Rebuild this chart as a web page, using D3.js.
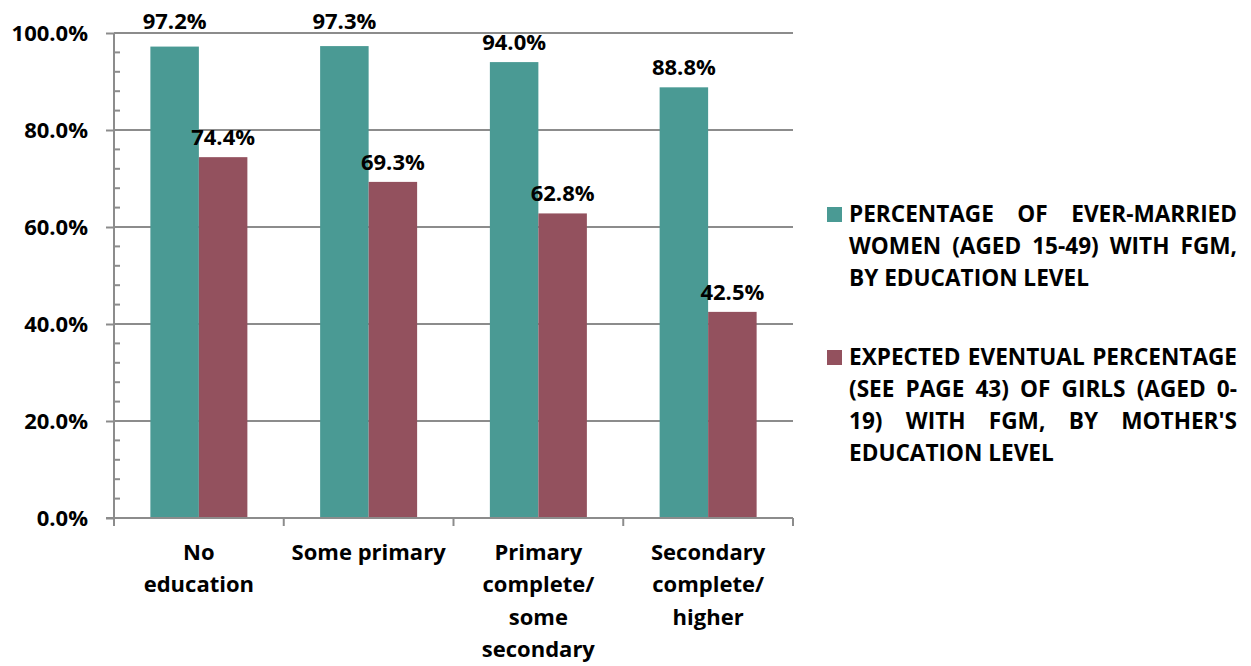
<!DOCTYPE html>
<html>
<head>
<meta charset="utf-8">
<script src="https://cdn.jsdelivr.net/npm/d3@7"></script>
<style>
  html, body { margin: 0; padding: 0; background: #fff; }
  svg text { font-family: "Open Sans", Lato, sans-serif; font-weight: bold; fill: #000; }
</style>
</head>
<body>
<svg id="chart" width="1251" height="666"></svg>
<script>
// ---- data ----
const categories = ["No\neducation", "Some primary", "Primary\ncomplete/\nsome\nsecondary", "Secondary\ncomplete/\nhigher"];
const seriesNames = [
  "PERCENTAGE OF EVER-MARRIED WOMEN (AGED 15-49) WITH FGM, BY EDUCATION LEVEL",
  "EXPECTED EVENTUAL PERCENTAGE (SEE PAGE 43) OF GIRLS (AGED 0-19) WITH FGM, BY MOTHER'S EDUCATION LEVEL"
];
const womenValues = [97.2, 97.3, 94.0, 88.8];
const girlsValues = [74.4, 69.3, 62.8, 42.5];
const yTicks = [0, 20, 40, 60, 80, 100];
const colors = ["#4A9A94", "#93515E"];

// ---- layout ----
const svg = d3.select("#chart");
const plotLeft = 114, plotRight = 793, plotTop = 33, plotBottom = 518;
const fontSize = 22;
const legendFontSize = 22.6;
const fontFam = "'Open Sans', Lato, sans-serif";
const gridColor = "#8c8c8c";

const x0 = d3.scaleBand().domain(categories).range([plotLeft, plotRight]).paddingInner(0).paddingOuter(0);
const x1 = d3.scaleBand().domain([0, 1]).range([0, x0.bandwidth()]).paddingInner(0).paddingOuter(0.75);
const y = d3.scaleLinear().domain([0, 100]).range([plotBottom, plotTop]);

// gridlines
svg.append("g").selectAll("line")
  .data(yTicks.filter(d => d > 0))
  .join("line")
  .attr("x1", plotLeft).attr("x2", plotRight)
  .attr("y1", d => y(d)).attr("y2", d => y(d))
  .attr("stroke", gridColor).attr("stroke-width", 2);

// bars
const rows = categories.map((c, i) => ({ cat: c, vals: [womenValues[i], girlsValues[i]] }));
const groups = svg.append("g").selectAll("g")
  .data(rows).join("g")
  .attr("transform", d => `translate(${x0(d.cat)},0)`);
groups.selectAll("rect")
  .data(d => d.vals.map((v, k) => ({ v, k })))
  .join("rect")
  .attr("x", d => x1(d.k))
  .attr("width", x1.bandwidth())
  .attr("y", d => y(d.v))
  .attr("height", d => y(0) - y(d.v))
  .attr("fill", d => colors[d.k]);
groups.selectAll("text.val")
  .data(d => d.vals.map((v, k) => ({ v, k })))
  .join("text")
  .attr("class", "val")
  .attr("x", d => x1(d.k) + x1.bandwidth() / 2)
  .attr("y", d => (y(d.v) - 12 > plotTop + 12) ? y(d.v) - 12 : plotTop - 4)
  .attr("text-anchor", "middle")
  .style("font-size", fontSize + "px")
  .text(d => d.v.toFixed(1) + "%");

// y axis
const yAxis = d3.axisLeft(y).tickValues(yTicks).tickSize(8).tickPadding(18)
  .tickFormat(d => d.toFixed(1) + "%");
const gy = svg.append("g").attr("transform", `translate(${plotLeft},0)`).call(yAxis);
gy.select(".domain").attr("stroke", gridColor).attr("stroke-width", 2).attr("d", `M0,${plotTop}V${plotBottom}`);
gy.selectAll(".tick line").attr("stroke", gridColor).attr("stroke-width", 2);
gy.selectAll(".tick text").style("font-size", fontSize + "px").style("font-family", fontFam).style("font-weight", "bold").attr("fill", "#000");
// minor ticks
const minor = d3.range(0, 101, 4).filter(d => d % 20 !== 0);
svg.append("g").selectAll("line").data(minor).join("line")
  .attr("x1", plotLeft).attr("x2", plotLeft + 6)
  .attr("y1", d => y(d)).attr("y2", d => y(d))
  .attr("stroke", gridColor).attr("stroke-width", 2);

// x axis
svg.append("line").attr("x1", plotLeft - 8).attr("x2", plotRight)
  .attr("y1", plotBottom).attr("y2", plotBottom)
  .attr("stroke", gridColor).attr("stroke-width", 2);
const boundaries = categories.map(c => x0(c)).concat([plotRight]);
svg.append("g").selectAll("line").data(boundaries).join("line")
  .attr("x1", d => d).attr("x2", d => d)
  .attr("y1", plotBottom).attr("y2", plotBottom + 8)
  .attr("stroke", gridColor).attr("stroke-width", 2);
// category labels
const catG = svg.append("g");
categories.forEach(c => {
  const cx = x0(c) + x0.bandwidth() / 2;
  const t = catG.append("text")
    .attr("x", cx)
    .attr("y", 560)
    .attr("text-anchor", "middle")
    .style("font-size", fontSize + "px");
  c.split("\n").forEach((line, i) => {
    t.append("tspan").attr("x", cx)
      .attr("dy", i === 0 ? 0 : 32.3).text(line);
  });
});

// legend with justified text
const legX = 849, legRight = 1237, lineH = 32;
const legTops = [222, 365];
seriesNames.forEach((name, si) => {
  const base = legTops[si];
  svg.append("rect").attr("x", 827).attr("y", base - 15).attr("width", 15).attr("height", 15)
    .attr("fill", colors[si]);
  const words = name.split(" ");
  const width = legRight - legX;
  const measure = svg.append("text").style("font-size", legendFontSize + "px");
  const wlen = w => { measure.text(w); return measure.node().getComputedTextLength(); };
  const lines = [];
  let cur = [];
  const queue = words.slice();
  while (queue.length) {
    const w = queue.shift();
    const test = cur.concat([w]).join(" ");
    if (cur.length && wlen(test) > width) {
      const h = w.indexOf("-");
      if (h > 0 && h < w.length - 1 && wlen(cur.concat([w.slice(0, h + 1)]).join(" ")) <= width) {
        cur.push(w.slice(0, h + 1));
        queue.unshift(w.slice(h + 1));
      } else {
        queue.unshift(w);
      }
      lines.push(cur); cur = [];
    } else cur.push(w);
  }
  if (cur.length) lines.push(cur);
  lines.forEach((lw, li) => {
    const yy = base + li * lineH;
    if (li === lines.length - 1 || lw.length === 1) {
      svg.append("text").attr("x", legX).attr("y", yy).style("font-size", legendFontSize + "px").text(lw.join(" "));
    } else {
      const total = d3.sum(lw, wlen);
      const gap = (width - total) / (lw.length - 1);
      let xx = legX;
      lw.forEach(w => {
        svg.append("text").attr("x", xx).attr("y", yy).style("font-size", legendFontSize + "px").text(w);
        xx += wlen(w) + gap;
      });
    }
  });
  measure.remove();
});
</script>
</body>
</html>
